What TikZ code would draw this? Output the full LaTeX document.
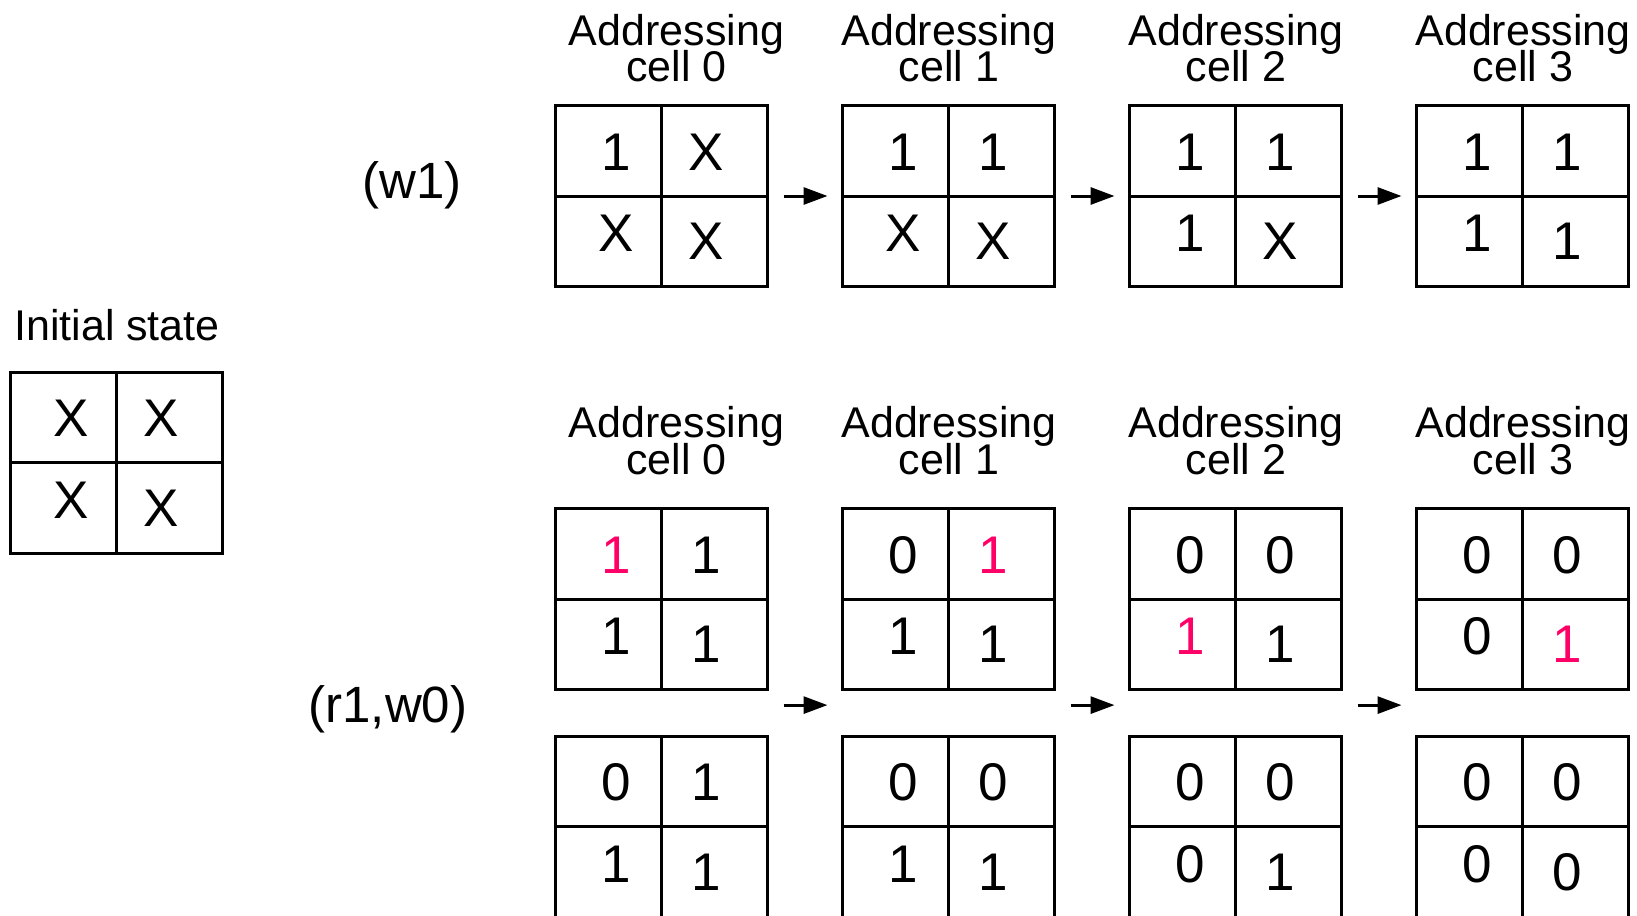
\documentclass[tikz,border=0pt]{standalone}
\usepackage{fontspec}
\setmainfont{Liberation Sans}
\usetikzlibrary{arrows.meta}
\definecolor{hot}{HTML}{FF0066}
\tikzset{
  cellgrid/.style={draw, line width=1.5pt, minimum width=106pt, minimum height=90.5pt,
    inner sep=0pt, outer sep=0pt, anchor=north west},
  val/.style={font=\fontsize{26.5}{30}\selectfont, inner sep=0pt},
  hdr/.style={font={\fontsize{21.5}{18.4}\selectfont\lineskiplimit=-50pt},
    align=center, inner sep=0pt, anchor=base},
  lbl/.style={font=\fontsize{25.5}{30}\selectfont, inner sep=0pt},
  nxt/.style={-{Triangle[length=12pt,width=8.5pt]}, line width=1.5pt}
}
% \memgrid{name}{left}{top}{upper left}{upper right}{lower left}{lower right}
\newcommand\memgrid[7]{%
  \node[cellgrid] (#1) at (#2,#3) {};
  \draw[line width=1.5pt] (#1.north) -- (#1.south) (#1.west) -- (#1.east);
  \node[val] (#1-a) at ({#2+60.5},{#3+46.5}) {#4};
  \node[val] (#1-b) at ({#2+151},{#3+46.5}) {#5};
  \node[val] (#1-c) at ({#2+60.5},{#3+128}) {#6};
  \node[val] (#1-d) at ({#2+151},{#3+136}) {#7};
}
\newcommand\hot[1]{\textcolor{hot}{#1}}
\begin{document}
\begin{tikzpicture}[x=0.5pt,y=-0.5pt]
  \useasboundingbox (0,0) rectangle (1637,915);

  % initial state
  \node[hdr] (init) at (117,340) {Initial state};
  \memgrid{i0}{10.5}{372}{X}{X}{X}{X}

  % row labels
  \node[lbl] (lw) at (412,185) {(w1)};
  \node[lbl] (lr) at (388,709) {(r1,w0)};

  % headers (base anchor sits on the second line)
  \foreach \n/\x in {0/676.5,1/949,2/1236,3/1523}{
    \node[hdr] (ht\n) at (\x,82) {Addressing\\cell \n};
    \node[hdr] (hb\n) at (\x,474.5) {Addressing\\cell \n};
  }

  % w1 sweep
  \memgrid{a0}{555.5}{105.5}{1}{X}{X}{X}
  \memgrid{a1}{842.5}{105.5}{1}{1}{X}{X}
  \memgrid{a2}{1129.5}{105.5}{1}{1}{1}{X}
  \memgrid{a3}{1416.5}{105.5}{1}{1}{1}{1}

  % r1,w0 sweep: state read
  \memgrid{b0}{555.5}{508.5}{\hot{1}}{1}{1}{1}
  \memgrid{b1}{842.5}{508.5}{0}{\hot{1}}{1}{1}
  \memgrid{b2}{1129.5}{508.5}{0}{0}{\hot{1}}{1}
  \memgrid{b3}{1416.5}{508.5}{0}{0}{0}{\hot{1}}

  % r1,w0 sweep: state written
  \memgrid{c0}{555.5}{736}{0}{1}{1}{1}
  \memgrid{c1}{842.5}{736}{0}{0}{1}{1}
  \memgrid{c2}{1129.5}{736}{0}{0}{0}{1}
  \memgrid{c3}{1416.5}{736}{0}{0}{0}{0}

  % arrows
  \draw[nxt] ([xshift=8pt]a0.east) -- ([xshift=-7.5pt]a1.west);
  \draw[nxt] ([xshift=8pt]a1.east) -- ([xshift=-7.5pt]a2.west);
  \draw[nxt] ([xshift=8pt]a2.east) -- ([xshift=-7.5pt]a3.west);
  \draw[nxt] ([shift={(8pt,-7.8pt)}]b0.south east) -- ([shift={(-7.5pt,-7.8pt)}]b1.south west);
  \draw[nxt] ([shift={(8pt,-7.8pt)}]b1.south east) -- ([shift={(-7.5pt,-7.8pt)}]b2.south west);
  \draw[nxt] ([shift={(8pt,-7.8pt)}]b2.south east) -- ([shift={(-7.5pt,-7.8pt)}]b3.south west);
\end{tikzpicture}
\end{document}
